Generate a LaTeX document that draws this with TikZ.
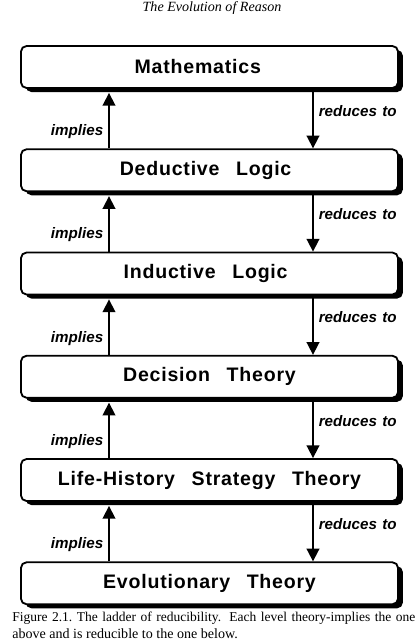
\documentclass[tikz,border=0pt]{standalone}
\usepackage{fontspec}
\setmainfont{Liberation Serif}
\newfontfamily\boxfont[LetterSpace=4]{Liberation Sans}
\newfontfamily\labfont{Liberation Sans}
\usetikzlibrary{positioning,shadows,arrows.meta}

\newcommand{\wgap}{\hspace{0.85em}}

\tikzset{
    rung/.style={draw, line width=1.3pt, rounded corners=4pt, fill=white,
        minimum width=9.425cm, minimum height=1.05cm, inner sep=0pt,
        drop shadow={shadow xshift=0.12cm, shadow yshift=-0.1cm, fill=black, opacity=1},
        font=\boxfont\bfseries\fontsize{13.9}{16}\selectfont},
    implarrow/.style={line width=1.2pt, -{Triangle[length=9pt,width=9pt]}},
    lab/.style={font=\labfont\bfseries\itshape\fontsize{10.8}{13}\selectfont, inner sep=0pt},
}

\begin{document}
\begin{tikzpicture}[x=0.025cm, y=-0.025cm, node distance=1.485cm]
        \useasboundingbox (0,0) rectangle (420,641);

        % Setup the ladder
        \node[rung] (math) at (209.5,67) {Mathematics\hspace*{1.2em}};
        \node[rung, below=of math] (deduct) {Deductive\wgap Logic\hspace*{0.4em}};
        \node[rung, below=of deduct] (induct) {Inductive\wgap Logic\hspace*{0.4em}};
        \node[rung, below=of induct] (decis) {Decision\wgap Theory};
        \node[rung, below=of decis] (lifehist) {Life-History\wgap Strategy\wgap Theory};
        \node[rung, below=of lifehist] (evol) {Evolutionary\wgap Theory};

        \coordinate (up) at (109,0);
        \coordinate (dn) at (313,0);

        % Implies, going up
        \draw[implarrow] (deduct.north -| up) -- ([yshift=-0.1cm]math.south -| up)
            node[pos=0.3, left=3.5pt, lab] (imp1) {implies};
        \draw[implarrow] (induct.north -| up) -- ([yshift=-0.1cm]deduct.south -| up)
            node[pos=0.3, left=3.5pt, lab] (imp2) {implies};
        \draw[implarrow] (decis.north -| up) -- ([yshift=-0.1cm]induct.south -| up)
            node[pos=0.3, left=3.5pt, lab] (imp3) {implies};
        \draw[implarrow] (lifehist.north -| up) -- ([yshift=-0.1cm]decis.south -| up)
            node[pos=0.3, left=3.5pt, lab] (imp4) {implies};
        \draw[implarrow] (evol.north -| up) -- ([yshift=-0.1cm]lifehist.south -| up)
            node[pos=0.3, left=3.5pt, lab] (imp5) {implies};

        % Reduces to, going down
        \draw[implarrow] (math.south -| dn) -- (deduct.north -| dn)
            node[pos=0.37, right=3.5pt, lab] (red1) {reduces\hspace{0.35em}to};
        \draw[implarrow] (deduct.south -| dn) -- (induct.north -| dn)
            node[pos=0.37, right=3.5pt, lab] (red2) {reduces\hspace{0.35em}to};
        \draw[implarrow] (induct.south -| dn) -- (decis.north -| dn)
            node[pos=0.37, right=3.5pt, lab] (red3) {reduces\hspace{0.35em}to};
        \draw[implarrow] (decis.south -| dn) -- (lifehist.north -| dn)
            node[pos=0.37, right=3.5pt, lab] (red4) {reduces\hspace{0.35em}to};
        \draw[implarrow] (lifehist.south -| dn) -- (evol.north -| dn)
            node[pos=0.37, right=3.5pt, lab] (red5) {reduces\hspace{0.35em}to};

        % Header and caption
        \node (title) at (212,8) {\fontsize{10}{12}\selectfont\itshape The Evolution of Reason};
        \node[anchor=north west, inner sep=0pt, align=left] (caption) at (12,612)
            {\fontsize{9.6}{10.4}\selectfont
             \makebox[10.075cm][s]{Figure 2.1.\ The ladder of reducibility. Each level theory-implies the one}\\
             above and is reducible to the one below.};

    \end{tikzpicture}
\end{document}
